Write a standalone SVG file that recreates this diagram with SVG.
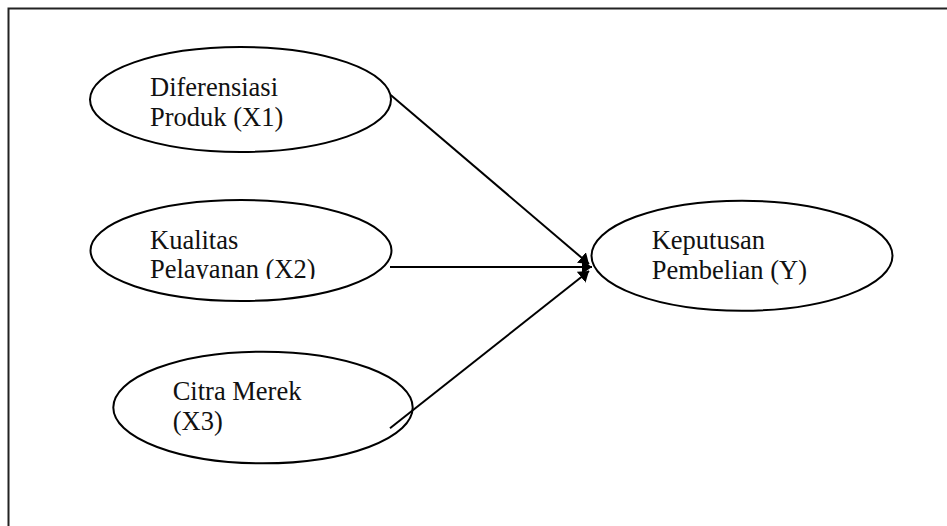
<svg xmlns="http://www.w3.org/2000/svg" width="947" height="526" viewBox="0 0 947 526">
<style>
.node ellipse{fill:#fff;stroke:#000;stroke-width:2}
.node text{font-family:"Liberation Serif","Times New Roman",serif;font-size:26.5px;fill:#111}
.edge{stroke:#000;stroke-width:2;fill:none;marker-end:url(#arrow)}
</style>
<defs>
<marker id="arrow" markerUnits="userSpaceOnUse" viewBox="0 0 10 14" refX="10" refY="7" markerWidth="10" markerHeight="14" orient="auto">
<path d="M0,0 L10,7 L0,14 Z" fill="#000"/>
</marker>
<clipPath id="clipX2"><rect x="100" y="200" width="290" height="79"/></clipPath>
</defs>
<rect width="947" height="526" fill="#fff"/>
<path d="M8.5,526 V8.5 H947" fill="none" stroke="#222" stroke-width="2"/>
<g id="x1" class="node">
<ellipse cx="240.5" cy="99.5" rx="150.5" ry="52.5"/>
<text x="150" y="96">Diferensiasi</text>
<text x="150" y="126">Produk (X1)</text>
</g>
<g id="x2" class="node">
<ellipse cx="241" cy="250.5" rx="150.5" ry="50.5"/>
<text x="150" y="249">Kualitas</text>
<text x="150" y="277.5" clip-path="url(#clipX2)">Pelayanan (X2)</text>
</g>
<g id="x3" class="node">
<ellipse cx="263" cy="407.5" rx="149.7" ry="55.8"/>
<text x="172.7" y="400">Citra Merek</text>
<text x="172.7" y="430">(X3)</text>
</g>
<g id="y" class="node">
<ellipse cx="742" cy="255.7" rx="150.5" ry="55"/>
<text x="651.7" y="249.3">Keputusan</text>
<text x="651.7" y="279.3">Pembelian (Y)</text>
</g>
<g id="connectors">
<line class="edge" x1="390.7" y1="95" x2="589" y2="264"/>
<line class="edge" x1="390" y1="267" x2="592" y2="267"/>
<line class="edge" x1="390" y1="428.3" x2="589" y2="271"/>
</g>
</svg>
